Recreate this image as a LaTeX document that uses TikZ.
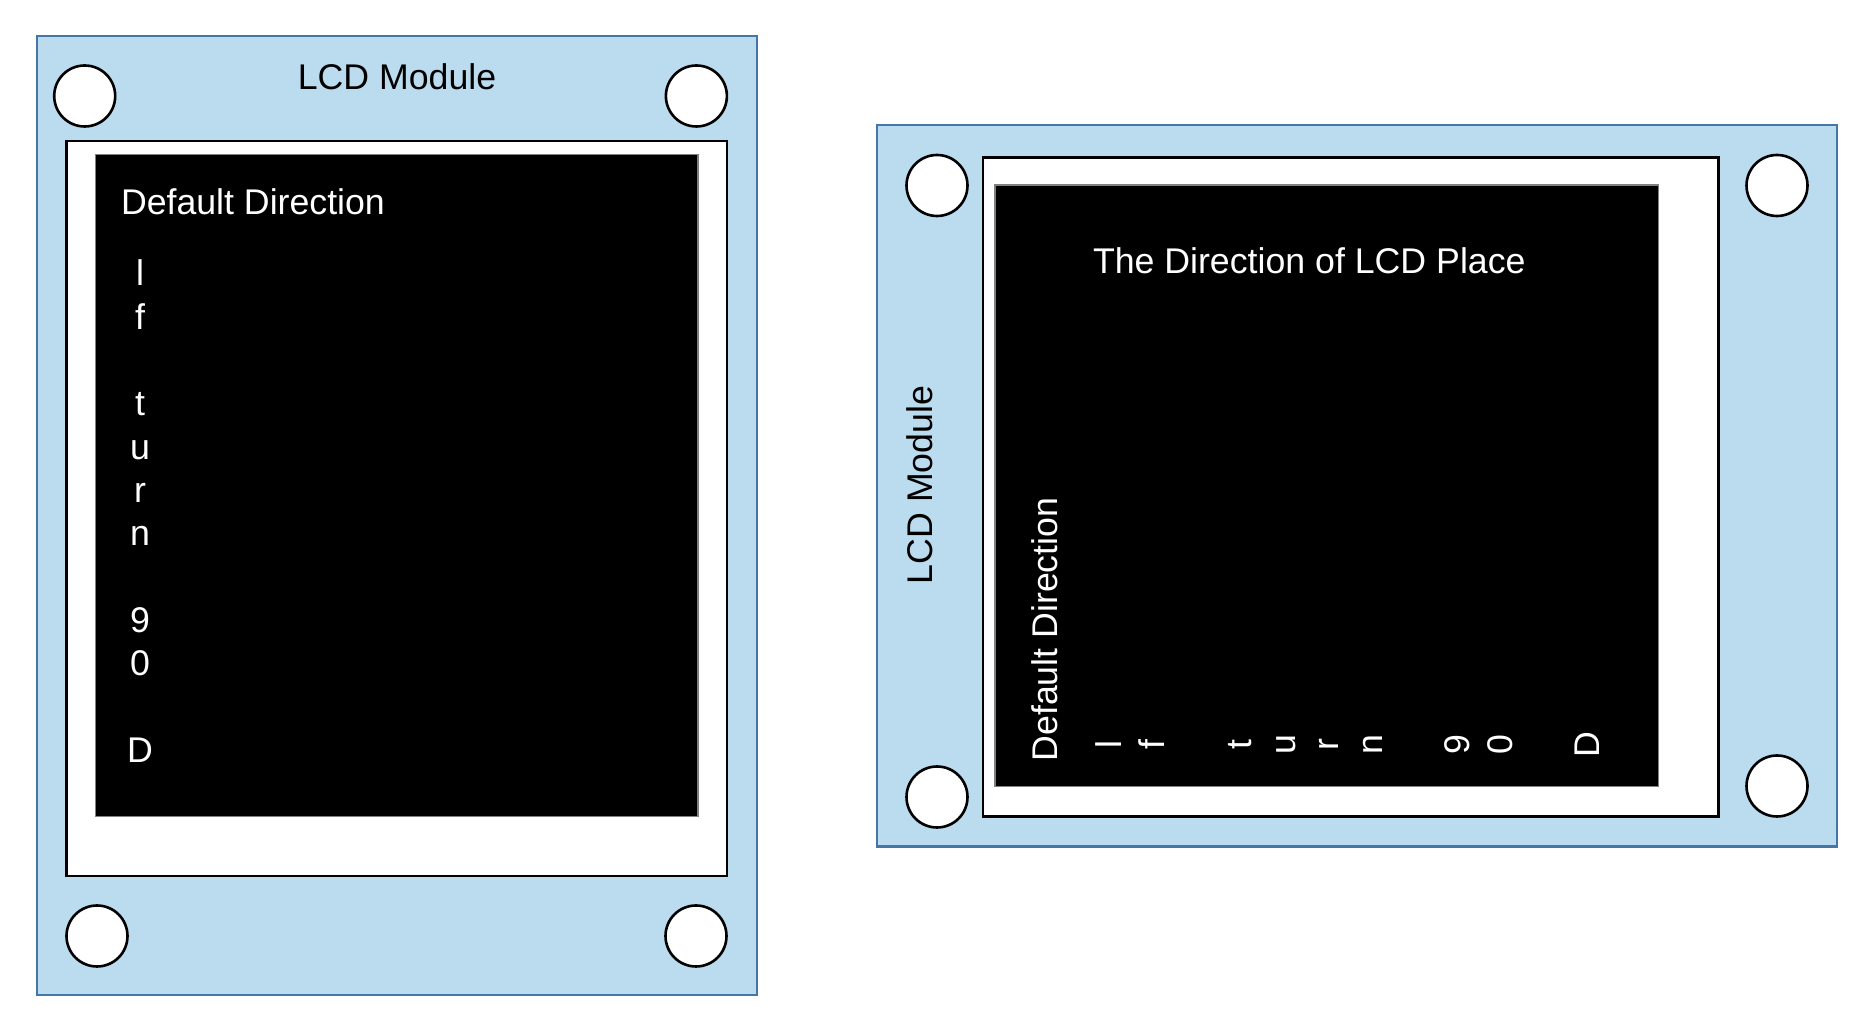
\documentclass[tikz,border=0pt]{standalone}
\usepackage{fontspec}
\setmainfont{Liberation Sans}
\definecolor{modfill}{RGB}{187,220,238}
\definecolor{modborder}{RGB}{70,118,166}
\tikzset{
  module/.style={draw=modborder, fill=modfill, line width=1.2pt},
  frame/.style={draw=black, fill=white, line width=1.3pt},
  screen/.style={draw=gray, fill=black, line width=0.6pt},
  hole/.style={circle, draw=black, fill=white, line width=1.3pt, minimum size=30.5pt, inner sep=0pt},
  lbl/.style={font=\fontsize{17.85}{21}\selectfont, inner sep=0pt, outer sep=0pt},
  wlbl/.style={lbl, text=white}
}
\begin{document}
\begin{tikzpicture}[x=0.5pt,y=-0.5pt]
\useasboundingbox (0,0) rectangle (1876,1036);
% ---- left module ----
\draw[module] (37,36) rectangle (757,995);
\draw[frame] (66.5,141) rectangle (727,876);
\draw[screen] (95.5,154.5) rectangle (698,816.5);
\node[hole] (h1) at (84.7,96) {};
\node[hole] (h2) at (696.4,96) {};
\node[hole] (h3) at (97,936) {};
\node[hole] (h4) at (696,936) {};
\node[lbl, anchor=base] (t1) at (397,89.5) {LCD Module};
\node[wlbl, anchor=base west] (t2) at (121,214.5) {Default Direction};
\foreach \c/\k in {l/0,f/1,t/3,u/4,r/5,n/6,9/8,0/9,D/11}
  \node[wlbl, anchor=base] (a\k) at (140,{286+43.3*\k}) {\c};
% ---- right module ----
\draw[module] (877,125) rectangle (1837,846.5);
\draw[frame] (983,157.5) rectangle (1718.5,816.5);
\draw[screen] (995,185) rectangle (1658.5,786.5);
\node[hole] (g1) at (937,185.5) {};
\node[hole] (g2) at (1777,185.5) {};
\node[hole] (g3) at (937,797) {};
\node[hole] (g4) at (1777,786) {};
\node[lbl, anchor=base, rotate=90] (s1) at (932,485) {LCD Module};
\node[wlbl, anchor=base west] (s2) at (1093,274) {The Direction of LCD Place};
\node[wlbl, anchor=base, rotate=90] (s3) at (1057,629.5) {Default Direction};
\foreach \c/\k in {l/0,f/1,t/3,u/4,r/5,n/6,9/8,0/9,D/11}
  \node[wlbl, anchor=base, rotate=90] (b\k) at ({1121+43.5*\k},745) {\c};
\end{tikzpicture}
\end{document}
